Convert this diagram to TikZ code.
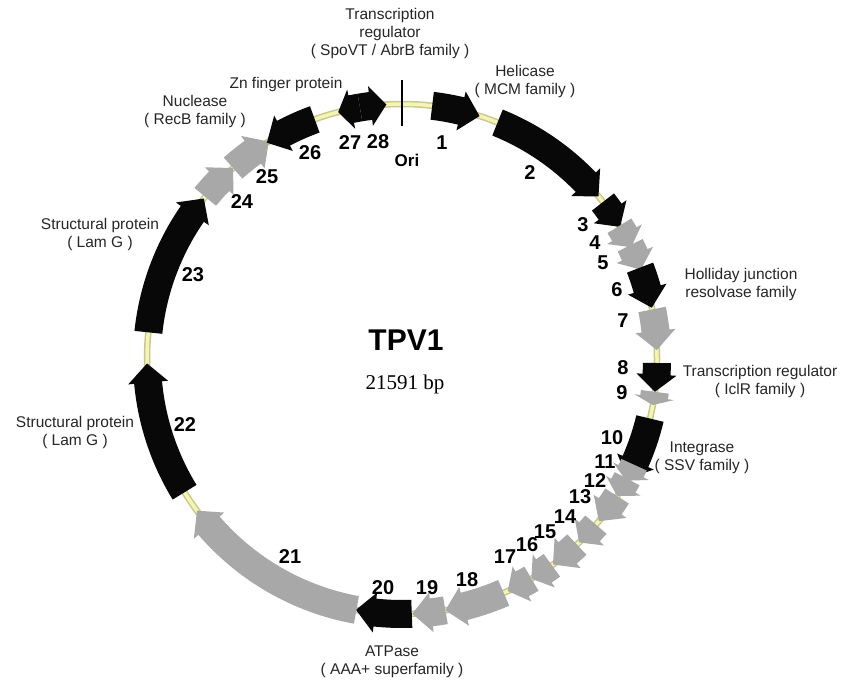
\documentclass[tikz,border=0pt]{standalone}
\usepackage{fontspec}
\setmainfont{Liberation Sans}
\newfontfamily\serifbp{Liberation Serif}
\definecolor{gfill}{RGB}{168,168,168}
\definecolor{bfill}{RGB}{8,8,8}
\definecolor{bandedge}{RGB}{200,200,140}
\definecolor{bandin}{RGB}{246,244,178}
\definecolor{lbl}{RGB}{38,38,38}
\newcommand{\gene}[3]{%
  \pgfmathsetmacro{\gnL}{abs(#2-(#1))}%
  \pgfmathsetmacro{\gnH}{min(4.3,0.6*\gnL)}%
  \pgfmathsetmacro{\gnB}{#1>#2 ? #2+\gnH : #2-\gnH}%
  \fill[#3] (#1:269) arc[start angle=#1,end angle=\gnB,radius=269] -- (\gnB:275) -- (#2:255) -- (\gnB:235) -- (\gnB:241) arc[start angle=\gnB,end angle=#1,radius=241] -- cycle;}
\tikzset{
  num/.style={font=\fontsize{20}{20}\selectfont\bfseries, text=black, inner sep=0pt},
  lab/.style={font=\fontsize{15.5}{18}\selectfont, text=lbl, align=center, inner sep=0pt},
  blk/.style={fill=bfill},
  gry/.style={fill=gfill}
}
\begin{document}
\begin{tikzpicture}[x=1pt,y=1pt]
\useasboundingbox (0,0) rectangle (843,-683);
\fill[white] (0,0) rectangle (843,-683);
\begin{scope}[shift={(402,-359)}]
  \draw[bandedge, line width=6.5pt] (0,0) circle[radius=255];
  \draw[bandin, line width=3.5pt] (0,0) circle[radius=255];
  % clockwise genes 1-25
  \gene{83.2}{72.3}{blk}
  \gene{68}{39.6}{blk}
  \gene{38}{31.2}{blk}
  \gene{31.5}{26}{gry}
  \gene{26.5}{20.5}{gry}
  \gene{21}{11.6}{blk}
  \gene{11.2}{2}{gry}
  \gene{359.1}{352.6}{blk}
  \gene{352.6}{349.6}{gry}
  \gene{346.5}{332}{blk}
  \gene{335.5}{331.5}{gry}
  \gene{332}{327.5}{gry}
  \gene{327.5}{320.5}{gry}
  \gene{319.5}{314}{gry}
  \gene{313.3}{306.3}{gry}
  \gene{306}{300.5}{gry}
  \gene{300.5}{294.5}{gry}
  \gene{293.5}{279.8}{gry}
  \gene{279.8}{272.3}{gry}
  \gene{272.2}{259.6}{blk}
  \gene{259.7}{216.5}{gry}
  \gene{211.5}{181}{blk}
  \gene{174}{141}{blk}
  \gene{140.5}{131.5}{gry}
  \gene{131.5}{121.5}{gry}
  % counter-clockwise genes
  \gene{110}{122}{blk}
  \gene{99.5}{104.5}{blk}
  \gene{99.5}{93.5}{blk}
  % origin tick
  \coordinate (oriA) at (90:233);
  \coordinate (oriB) at (90:279);
  \draw[line width=2.6pt, line cap=butt] (oriA) -- (oriB);
\end{scope}
% centre titles
\node[font=\fontsize{30}{30}\selectfont\bfseries, inner sep=0pt] (title) at (406,-340) {TPV1};
\node[font=\serifbp\fontsize{21}{21}\selectfont, inner sep=0pt] (size) at (405,-384) {21591 bp};
% gene numbers
\node[num] (n1) at (442,-143) {1};
\node[num] (n2) at (530,-173) {2};
\node[num] (n3) at (583,-225) {3};
\node[num] (n4) at (595,-243) {4};
\node[num] (n5) at (603,-263) {5};
\node[num] (n6) at (617,-290) {6};
\node[num] (n7) at (623,-321) {7};
\node[num] (n8) at (623,-368) {8};
\node[num] (n9) at (622,-393) {9};
\node[num] (n10) at (612,-438) {10};
\node[num] (n11) at (605,-462) {11};
\node[num] (n12) at (595,-481) {12};
\node[num] (n13) at (580,-497) {13};
\node[num] (n14) at (565,-517) {14};
\node[num] (n15) at (545,-532) {15};
\node[num] (n16) at (527,-545) {16};
\node[num] (n17) at (505,-557) {17};
\node[num] (n18) at (467,-580) {18};
\node[num] (n19) at (427,-588) {19};
\node[num] (n20) at (383,-588) {20};
\node[num] (n21) at (290,-557) {21};
\node[num] (n22) at (185,-425) {22};
\node[num] (n23) at (193,-275) {23};
\node[num] (n24) at (242,-202) {24};
\node[num] (n25) at (267,-177) {25};
\node[num] (n26) at (310,-153) {26};
\node[num] (n27) at (350,-143) {27};
\node[num] (n28) at (378,-142) {28};
\node[num, font=\fontsize{17}{17}\selectfont\bfseries] (ori) at (407,-160) {Ori};
% annotation labels
\node[lab] (tr1) at (390,-33) {Transcription\\regulator\\( SpoVT / AbrB family )};
\node[lab] (zn) at (286,-84) {Zn finger protein};
\node[lab] (hel) at (525,-81) {Helicase\\( MCM family )};
\node[lab] (nuc) at (195,-111) {Nuclease\\( RecB family )};
\node[lab] (st1) at (100,-234) {Structural protein\\( Lam G )};
\node[lab] (st2) at (75,-432) {Structural protein\\( Lam G )};
\node[lab] (hol) at (741,-284) {Holliday junction\\resolvase family};
\node[lab] (tr2) at (760,-381) {Transcription regulator\\( IclR family )};
\node[lab] (int) at (702,-458) {Integrase\\( SSV family )};
\node[lab] (atp) at (392,-662) {ATPase\\( AAA+ superfamily )};
\end{tikzpicture}
\end{document}
